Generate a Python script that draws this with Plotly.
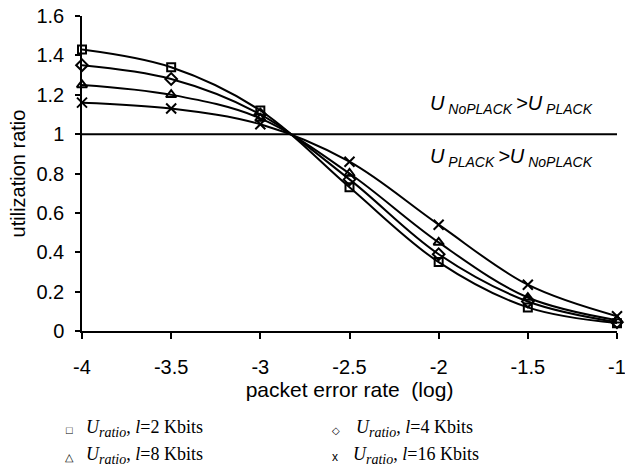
import plotly.graph_objects as go

# packet error rate (log10) sample points
log_per = [-4, -3.5, -3, -2.5, -2, -1.5, -1]

# utilization ratio for each packet length
u_2k = [1.43, 1.34, 1.12, 0.73, 0.35, 0.12, 0.04]
u_4k = [1.35, 1.28, 1.10, 0.77, 0.39, 0.15, 0.045]
u_8k = [1.25, 1.20, 1.08, 0.80, 0.45, 0.17, 0.055]
u_16k = [1.16, 1.13, 1.05, 0.86, 0.54, 0.235, 0.075]

x_ticks = [-4, -3.5, -3, -2.5, -2, -1.5, -1]
y_ticks = [0, 0.2, 0.4, 0.6, 0.8, 1, 1.2, 1.4, 1.6]

W, H = 625, 468
L, R, T, B = 82, 8, 16, 137
PW, PH = W - L - R, H - T - B


def px(x):
    return (x - L) / PW


def py(y):
    return (H - B - y) / PH


series = [
    (u_2k, "square-open", 8, "l=2 Kbits"),
    (u_4k, "diamond-open", 9, "l=4 Kbits"),
    (u_8k, "triangle-up-open", 9, "l=8 Kbits"),
    (u_16k, "x-thin-open", 10, "l=16 Kbits"),
]

fig = go.Figure()

# reference line at ratio = 1
fig.add_trace(go.Scatter(
    x=[x_ticks[0], x_ticks[-1]], y=[1, 1], mode="lines",
    line=dict(color="black", width=2), showlegend=False, hoverinfo="skip",
))

for vals, sym, size, name in series:
    fig.add_trace(go.Scatter(
        x=log_per, y=vals, mode="lines+markers", name=name,
        line=dict(color="black", width=2, shape="spline", smoothing=1.0),
        marker=dict(symbol=sym, size=size, color="black",
                    line=dict(color="black", width=2)),
        cliponaxis=False, showlegend=False,
    ))

sans = "Arial, Liberation Sans, sans-serif"
serif = "Times New Roman, Liberation Serif, serif"

fig.update_layout(
    width=W, height=H,
    margin=dict(l=L, r=R, t=T, b=B, autoexpand=False),
    paper_bgcolor="white", plot_bgcolor="white",
    font=dict(family=sans, size=20, color="black"),
    xaxis=dict(
        range=[-4, -1], tickvals=x_ticks, ticktext=[f"{v:g}" for v in x_ticks],
        showgrid=False, zeroline=False, showline=True, linecolor="black",
        linewidth=1.5, ticks="outside", ticklen=6, tickwidth=1.5,
        tickcolor="black", ticklabelstandoff=11, ticklabeloverflow="allow",
        tickfont=dict(size=20),
        title=dict(text="packet error rate&nbsp; (log)", standoff=4,
                   font=dict(size=21)),
    ),
    yaxis=dict(
        range=[0, 1.6], tickvals=y_ticks, ticktext=[f"{v:g}" for v in y_ticks],
        showgrid=False, zeroline=False, showline=True, linecolor="black",
        linewidth=1.5, ticks="outside", ticklen=5, tickwidth=1.5,
        tickcolor="black", ticklabelstandoff=7, ticklabeloverflow="allow",
        tickfont=dict(size=20),
        title=dict(text="utilization ratio", standoff=5, font=dict(size=20)),
    ),
)

# region labels on either side of the ratio = 1 line
fig.add_annotation(
    x=px(428), y=py(104), xref="paper", yref="paper", xanchor="left",
    yanchor="middle", showarrow=False, font=dict(family=sans, size=20),
    text="<i>U</i><sub><i> NoPLACK </i></sub><i>&gt;U</i><sub><i> PLACK</i></sub>",
)
fig.add_annotation(
    x=px(428), y=py(158), xref="paper", yref="paper", xanchor="left",
    yanchor="middle", showarrow=False, font=dict(family=sans, size=20),
    text="<i>U</i><sub><i> PLACK </i></sub><i>&gt;U</i><sub><i> NoPLACK</i></sub>",
)

# legend drawn as text entries below the axis
legend_rows = [
    ("□", "2", 69, 11, 84, 428),
    ("◇", "4", 336, 10, 354, 428),
    ("△", "8", 69, 11, 84, 455),
    ("x", "16", 335, 12, 351, 455),
]
for sym, size_txt, sx, ssize, tx, ty in legend_rows:
    fig.add_annotation(
        x=px(sx), y=py(ty + 2), xref="paper", yref="paper", xanchor="center",
        yanchor="middle", showarrow=False, font=dict(family=sans, size=ssize),
        text=sym,
    )
    fig.add_annotation(
        x=px(tx), y=py(ty), xref="paper", yref="paper", xanchor="left",
        yanchor="middle", showarrow=False, font=dict(family=serif, size=18),
        text=(f"<i>U</i><sub><i><span style='font-size:14px'>ratio</span></i></sub>"
              f", <i>l</i>={size_txt} Kbits"),
    )

fig.write_html("out.html")
